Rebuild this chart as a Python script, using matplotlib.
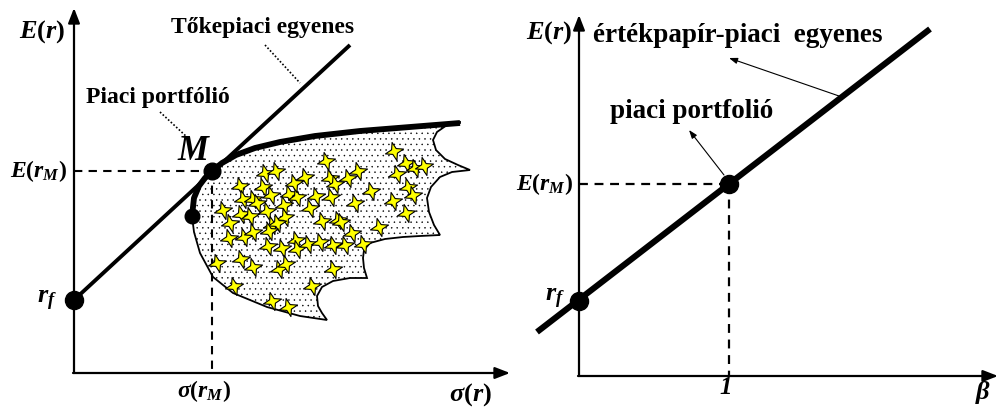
import numpy as np
import matplotlib.pyplot as plt
from matplotlib.path import Path
from matplotlib.patches import Polygon

plt.rcParams['mathtext.fontset'] = 'custom'
plt.rcParams['mathtext.rm'] = 'Liberation Serif:bold'
plt.rcParams['mathtext.it'] = 'Liberation Serif:bold:italic'
plt.rcParams['mathtext.bf'] = 'Liberation Serif:bold'
plt.rcParams['hatch.linewidth'] = 0.3
SERIF = 'Liberation Serif'

# ---- left panel (capital market line), figure pixel coordinates ----
left_origin = (74, 373)
left_yaxis_top = 8
left_xaxis_end = 510
rf_left = (74, 300)
cml_end = (350, 45)
m_left = (212, 171)
minvar_pt = (192, 216)

frontier_x = [192, 194, 199, 205, 212, 222, 236, 255, 280, 315, 360, 410, 460]
frontier_y = [216, 198, 186, 178, 171, 163, 155, 148, 142, 136, 131, 127, 123]

# scalloped right edge and lower edge of the feasible set
edge_x = [460, 447, 437, 433, 436, 445, 458, 470, 452, 440, 431, 427, 429, 434, 440,
          420, 403, 385, 370, 364, 363, 364, 367, 350, 333, 322, 317, 318, 322, 327,
          300, 267, 233, 213, 200, 194]
edge_y = [122, 125, 132, 140, 150, 159, 165, 170, 172, 177, 187, 198, 212, 225, 235,
          236, 237, 239, 243, 250, 258, 268, 278, 278, 281, 287, 296, 306, 313, 320,
          316, 307, 293, 277, 253, 232]

# yellow stars (securities), zoom-read positions
star_x = [394, 406, 415, 424, 326, 265, 276, 305, 330, 335, 348, 358, 397, 408, 413,
          240, 263, 271, 243, 253, 257, 289, 297, 316, 331, 294, 371, 355, 393, 406,
          223, 241, 250, 267, 284, 285, 230, 272, 277, 310, 322, 338, 341, 352, 379,
          229, 244, 253, 269, 268, 282, 296, 297, 308, 320, 333, 345, 363, 217, 241,
          253, 279, 286, 333, 312, 234, 272, 288]
star_y = [151, 163, 168, 166, 161, 173, 171, 177, 178, 184, 178, 171, 174, 187, 195,
          186, 187, 195, 199, 199, 203, 194, 197, 196, 197, 183, 191, 203, 201, 213,
          210, 214, 216, 211, 205, 217, 223, 225, 223, 208, 221, 220, 222, 233, 227,
          238, 237, 232, 231, 246, 248, 240, 249, 244, 242, 245, 245, 244, 263, 259,
          267, 269, 264, 269, 286, 286, 301, 307]

# ---- right panel (security market line) ----
right_origin = (579, 376)
right_yaxis_top = 15
right_xaxis_end = 998
rf_right = (579, 301)
m_right = (729, 184)
sml_start = (537, 332)
sml_end = (930, 29)

fig = plt.figure(figsize=(10, 4.09), dpi=100)
ax = fig.add_axes([0, 0, 1, 1])
ax.set_xlim(0, 1000)
ax.set_ylim(409, 0)
ax.axis('off')

arrow_style = dict(arrowstyle='-|>,head_length=0.9,head_width=0.35', lw=1.6,
                   color='black', shrinkA=0, shrinkB=0)
dash = (0, (4, 3))

# feasible set with dotted fill
region = Polygon(np.column_stack([frontier_x + edge_x, frontier_y + edge_y]), closed=True,
                 facecolor='white', edgecolor='black', lw=1.3, hatch='...', zorder=1)
ax.add_patch(region)

# star marker (four points, slightly tilted)
ang = np.deg2rad(15)
pts = []
for k in range(8):
    r = 1.0 if k % 2 == 0 else 0.36
    a = ang + k * np.pi / 4 + np.pi / 2
    pts.append((r * np.cos(a), r * np.sin(a)))
pts.append(pts[0])
star = Path(pts, closed=True)
ax.plot(star_x, star_y, ls='none', marker=star, ms=13, mfc='#ffff00', mec='black',
        mew=0.8, zorder=3)

# axes
ax.annotate('', xy=(left_origin[0], left_yaxis_top), xytext=(left_origin[0], left_origin[1]),
            arrowprops=arrow_style)
ax.annotate('', xy=(left_xaxis_end, left_origin[1]), xytext=(left_origin[0] - 1, left_origin[1]),
            arrowprops=arrow_style)

# capital market line and efficient frontier
ax.plot([rf_left[0], cml_end[0]], [rf_left[1], cml_end[1]], color='black', lw=2.8,
        solid_capstyle='butt', zorder=4)
ax.plot(frontier_x, frontier_y, color='black', lw=4.2, solid_capstyle='butt', zorder=4)

ax.plot([left_origin[0], m_left[0]], [m_left[1], m_left[1]], color='black', lw=1.5,
        ls=dash, zorder=2)
ax.plot([m_left[0], m_left[0]], [m_left[1], left_origin[1]], color='black', lw=1.5,
        ls=dash, zorder=2)

ax.plot(*rf_left, 'o', color='black', ms=13, zorder=5)
ax.plot(*m_left, 'o', color='black', ms=12, zorder=5)
ax.plot(*minvar_pt, 'o', color='black', ms=10.5, zorder=5)

# dotted leaders
ax.plot([265, 300], [45, 83], color='black', lw=1.2, ls=(0, (1, 1.2)))
ax.plot([160, 188], [112, 138], color='black', lw=1.2, ls=(0, (1, 1.2)))

ax.text(263, 27, 'Tőkepiaci egyenes', family=SERIF, weight='bold', fontsize=17,
        ha='center', va='center')
ax.text(158, 97, 'Piaci portfólió', family=SERIF, weight='bold', fontsize=17,
        ha='center', va='center')
ax.text(193, 152, 'M', family=SERIF, weight='bold', style='italic', fontsize=25,
        ha='center', va='center')

ax.text(42, 32, r'$E(r)$', fontsize=19, ha='center', va='center')
ax.text(67, 171, r'$E(r_M)$', fontsize=17, ha='right', va='center')
ax.text(47, 300, r'$r_f$', fontsize=19, ha='center', va='center')
ax.text(204, 391, r'$\sigma(r_M)$', fontsize=17, ha='center', va='center')
ax.text(470, 395, r'$\sigma(r)$', fontsize=19, ha='center', va='center')

# ---- right panel ----
ax.annotate('', xy=(right_origin[0], right_yaxis_top), xytext=(right_origin[0], right_origin[1]),
            arrowprops=arrow_style)
ax.annotate('', xy=(right_xaxis_end, right_origin[1]), xytext=(right_origin[0] - 1, right_origin[1]),
            arrowprops=arrow_style)

ax.plot([sml_start[0], sml_end[0]], [sml_start[1], sml_end[1]], color='black', lw=4.4,
        solid_capstyle='butt', zorder=4)
ax.plot([right_origin[0], m_right[0]], [m_right[1], m_right[1]], color='black', lw=1.6,
        ls=dash, zorder=2)
ax.plot([m_right[0], m_right[0]], [m_right[1], right_origin[1]], color='black', lw=1.6,
        ls=dash, zorder=2)
ax.plot(*rf_right, 'o', color='black', ms=13, zorder=5)
ax.plot(*m_right, 'o', color='black', ms=13, zorder=5)

thin_arrow = dict(arrowstyle='-|>,head_length=0.5,head_width=0.18', lw=0.8,
                  color='black', shrinkA=0, shrinkB=0)
ax.annotate('', xy=(729, 58), xytext=(839, 96), arrowprops=thin_arrow)
ax.annotate('', xy=(689, 130), xytext=(724, 175), arrowprops=thin_arrow)

ax.text(593, 35, 'értékpapír-piaci  egyenes', family=SERIF, weight='bold', fontsize=19.5,
        ha='left', va='center')
ax.text(610, 112, 'piaci portfolió', family=SERIF, weight='bold', fontsize=19.5,
        ha='left', va='center')

ax.text(549, 33, r'$E(r)$', fontsize=19, ha='center', va='center')
ax.text(573, 184, r'$E(r_M)$', fontsize=17, ha='right', va='center')
ax.text(555, 298, r'$r_f$', fontsize=19, ha='center', va='center')
ax.text(726, 387, '1', family=SERIF, weight='bold', style='italic', fontsize=18,
        ha='center', va='center')
ax.text(983, 392, r'$\beta$', fontsize=19, ha='center', va='center')

fig.savefig('out.png', dpi=100)
